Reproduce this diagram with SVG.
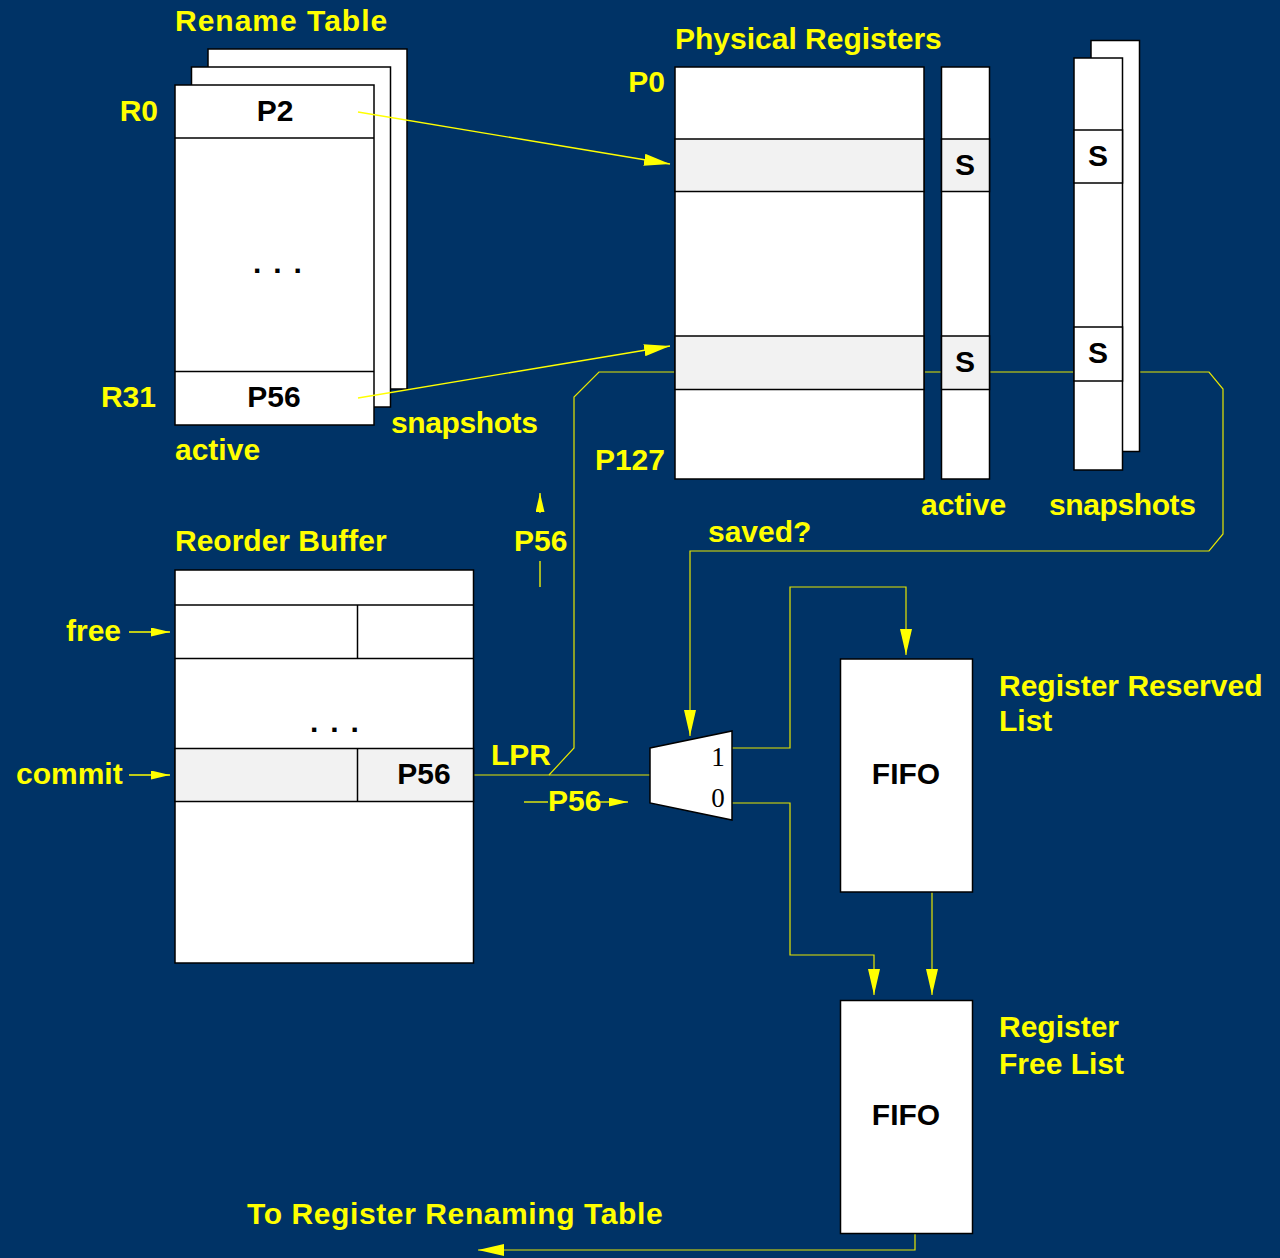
<svg xmlns="http://www.w3.org/2000/svg" width="1280" height="1258" viewBox="0 0 1280 1258">
<style>
.bg{fill:#003366}
.box{fill:#ffffff;stroke:#000000;stroke-width:1.5}
.gray{fill:#f2f2f2;stroke:#000000;stroke-width:1.5}
.ln{stroke:#000000;stroke-width:1.5;fill:none}
.lab{font-family:"Liberation Sans",Arial,sans-serif;font-weight:bold;font-size:30px;fill:#ffff00}
.in{font-family:"Liberation Sans",Arial,sans-serif;font-weight:bold;font-size:30px;fill:#000000}
.dots{font-family:"Liberation Sans",Arial,sans-serif;font-weight:bold;font-size:30px;fill:#000000;letter-spacing:1.8px}
.dig{font-family:"Liberation Serif","Times New Roman",serif;font-size:27px;fill:#000000}
.wire{fill:none;stroke:#e6e600;stroke-width:1.2}
.wireb{fill:none;stroke:#ffff00;stroke-width:1.3}
</style>
<defs>
<marker id="big" markerUnits="userSpaceOnUse" markerWidth="26" markerHeight="12" refX="26" refY="6" orient="auto">
<path d="M0,0 L26,6 L0,12 z" fill="#ffff00"/>
</marker>
<marker id="small" markerUnits="userSpaceOnUse" markerWidth="19" markerHeight="9" refX="19" refY="4.5" orient="auto">
<path d="M0,0 L19,4.5 L0,9 z" fill="#ffff00"/>
</marker>
</defs>
<rect class="bg" x="0" y="0" width="1280" height="1258"/>

<g id="rename-table">
<rect class="box" x="208" y="49" width="199" height="340"/>
<rect class="box" x="191.5" y="67" width="199" height="340"/>
<rect class="box" x="175" y="85" width="199" height="340"/>
<line class="ln" x1="175" y1="138" x2="374" y2="138"/>
<line class="ln" x1="175" y1="371.5" x2="374" y2="371.5"/>
<text class="in" x="275" y="121" text-anchor="middle">P2</text>
<text class="dots" x="253" y="273">. . .</text>
<text class="in" x="274" y="407" text-anchor="middle">P56</text>
<text class="lab" x="175" y="31" letter-spacing="1">Rename Table</text>
<text class="lab" x="158" y="121" text-anchor="end">R0</text>
<text class="lab" x="156" y="407" text-anchor="end">R31</text>
<text class="lab" x="175" y="460">active</text>
<text class="lab" x="391" y="433" letter-spacing="-0.4">snapshots</text>
</g>

<g id="connectors">
<line class="wireb" x1="358" y1="112" x2="670" y2="164" marker-end="url(#big)"/>
<line class="wireb" x1="358" y1="398" x2="670" y2="346" marker-end="url(#big)"/>
<path class="wire" d="M549,775 L574,748 L574,397 L599,372 L1209,372 L1223,389 L1223,534 L1209,551 L690,551 L690,736" marker-end="url(#big)"/>
<line class="wire" x1="474" y1="775" x2="650" y2="775"/>
<line class="wireb" x1="540" y1="513" x2="540" y2="493" marker-end="url(#small)"/>
<line class="wireb" x1="540" y1="561" x2="540" y2="587"/>
<line class="wireb" x1="524" y1="802" x2="548" y2="802"/>
<line class="wireb" x1="600" y1="802" x2="628" y2="802" marker-end="url(#small)"/>
<line class="wireb" x1="129" y1="632" x2="170" y2="632" marker-end="url(#small)"/>
<line class="wireb" x1="129" y1="775" x2="170" y2="775" marker-end="url(#small)"/>
<path class="wire" d="M732,748 L790,748 L790,587 L906,587 L906,655" marker-end="url(#big)"/>
<path class="wire" d="M732,803 L790,803 L790,955 L874,955 L874,995" marker-end="url(#big)"/>
<line class="wire" x1="932" y1="892" x2="932" y2="995" marker-end="url(#big)"/>
<path class="wire" d="M915,1233 L915,1250 L478,1250" marker-end="url(#big)"/>
</g>

<g id="physical-registers">
<rect class="box" x="675" y="67" width="249" height="412"/>
<rect class="gray" x="675" y="139" width="249" height="52.5"/>
<rect class="gray" x="675" y="336" width="249" height="53.5"/>
<text class="lab" x="675" y="49">Physical Registers</text>
<text class="lab" x="665" y="92" text-anchor="end">P0</text>
<text class="lab" x="665" y="470" text-anchor="end">P127</text>
</g>

<g id="active-column">
<rect class="box" x="941.5" y="67" width="48" height="412"/>
<rect class="gray" x="941.5" y="139" width="48" height="52.5"/>
<rect class="gray" x="941.5" y="336" width="48" height="53.5"/>
<text class="in" x="965" y="175" text-anchor="middle">S</text>
<text class="in" x="965" y="372" text-anchor="middle">S</text>
<text class="lab" x="921" y="515">active</text>
</g>

<g id="snapshot-column">
<rect class="box" x="1091" y="40.5" width="48.5" height="411"/>
<rect class="box" x="1074" y="58" width="48.5" height="412"/>
<rect class="box" x="1074" y="130" width="48.5" height="53"/>
<rect class="box" x="1074" y="327" width="48.5" height="54"/>
<text class="in" x="1098" y="166" text-anchor="middle">S</text>
<text class="in" x="1098" y="363" text-anchor="middle">S</text>
<text class="lab" x="1049" y="515" letter-spacing="-0.4">snapshots</text>
<text class="lab" x="708" y="542">saved?</text>
</g>

<g id="reorder-buffer">
<rect class="box" x="175" y="570" width="298.5" height="393"/>
<line class="ln" x1="175" y1="605" x2="473.5" y2="605"/>
<line class="ln" x1="175" y1="658.5" x2="473.5" y2="658.5"/>
<line class="ln" x1="357.5" y1="605" x2="357.5" y2="658.5"/>
<rect class="gray" x="175" y="748.5" width="298.5" height="53"/>
<line class="ln" x1="357.5" y1="748.5" x2="357.5" y2="801.5"/>
<text class="dots" x="310" y="732">. . .</text>
<text class="in" x="424" y="784" text-anchor="middle">P56</text>
<text class="lab" x="175" y="551">Reorder Buffer</text>
<text class="lab" x="66" y="641">free</text>
<text class="lab" x="16" y="784">commit</text>
<text class="lab" x="514" y="551">P56</text>
<text class="lab" x="491" y="765">LPR</text>
<text class="lab" x="548" y="811">P56</text>
</g>

<g id="mux">
<polygon points="650,748 732,731 732,820 650,803" fill="#ffffff" stroke="#000000" stroke-width="1.5"/>
<text class="dig" x="718" y="766" text-anchor="middle">1</text>
<text class="dig" x="718" y="807" text-anchor="middle">0</text>
</g>

<g id="reserved-list">
<rect class="box" x="840.5" y="659" width="132" height="233"/>
<text class="in" x="906" y="784" text-anchor="middle">FIFO</text>
<text class="lab" x="999" y="696">Register Reserved</text>
<text class="lab" x="999" y="731">List</text>
</g>

<g id="free-list">
<rect class="box" x="840.5" y="1000.5" width="132" height="233"/>
<text class="in" x="906" y="1125" text-anchor="middle">FIFO</text>
<text class="lab" x="999" y="1037">Register</text>
<text class="lab" x="999" y="1074">Free List</text>
<text class="lab" x="247" y="1224" letter-spacing="0.6">To Register Renaming Table</text>
</g>
</svg>
